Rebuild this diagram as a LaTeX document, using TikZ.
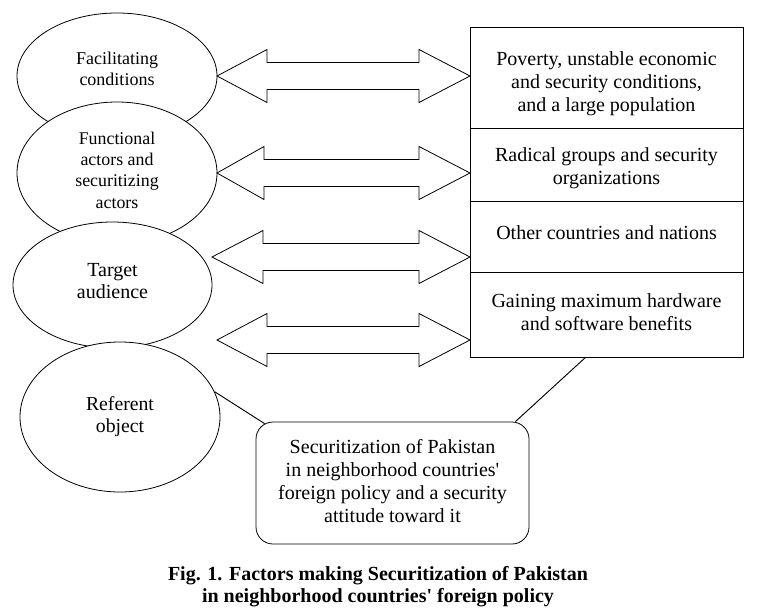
\documentclass[tikz,border=0pt]{standalone}
\usepackage{fontspec}
\setmainfont{Liberation Serif}
\usetikzlibrary{shapes.geometric,calc}
\tikzset{
  ell/.style={ellipse,draw,fill=white,line width=0.6pt,inner sep=0pt},
  boxn/.style={rectangle,draw,line width=0.6pt,inner sep=0pt,minimum width=204.75pt},
  etxt/.style={inner sep=0pt,align=center,font=\fontsize{13.5}{15.5}\selectfont},
  btxt/.style={inner sep=0pt,align=center,font=\fontsize{15}{17.25}\selectfont},
  fat/.style={draw,line width=0.6pt,fill=white,line join=miter},
  link/.style={draw,line width=0.7pt}
}
\newcommand{\fatarrow}[4]{%
  \draw[fat] (#1,#2) -- (#3,#2-26.5) -- (#3,#2-13.5) -- (#4,#2-13.5) -- (#4,#2-26.5)
    -- (470,#2) -- (#4,#2+26.5) -- (#4,#2+13.5) -- (#3,#2+13.5) -- (#3,#2+26.5) -- cycle;}
\begin{document}
\begin{tikzpicture}[x=0.75pt,y=-0.75pt]
\useasboundingbox (0,0) rectangle (781,614);
% ellipses
\node[ell,minimum width=150pt,minimum height=94.5pt] (e1) at (117,76) {};
\node[etxt] (e1t) at (117,69) {Facilitating\\conditions};
\node[ell,minimum width=150pt,minimum height=106.5pt] (e2) at (117,173) {};
\node[etxt,font=\fontsize{13.4}{16}\selectfont] (e2t) at (117,170) {Functional\\actors and\\securitizing\\actors};
\node[ell,minimum width=149.25pt,minimum height=94.5pt] (e3) at (112.5,285) {};
\node[etxt,font=\fontsize{15}{17}\selectfont] (e3t) at (112.5,281) {Target\\audience};
\node[ell,minimum width=150pt,minimum height=112.5pt] (e4) at (120,417) {};
\node[etxt,font=\fontsize{14.8}{16.5}\selectfont] (e4t) at (120,417) {Referent\\object};
% right boxes
\node[boxn,minimum height=75.75pt] (b1) at (606.5,77.5) {};
\node[btxt] (b1t) at (606.5,84) {Poverty, unstable economic\\and security conditions,\\and a large population};
\node[boxn,minimum height=54.75pt] (b2) at (606.5,164.5) {};
\node[btxt] (b2t) at (606.5,168) {Radical groups and security\\organizations};
\node[boxn,minimum height=53.25pt] (b3) at (606.5,236.5) {};
\node[btxt] (b3t) at (606.5,233) {Other countries and nations};
\node[boxn,minimum height=63.75pt] (b4) at (606.5,314.5) {};
\node[btxt] (b4t) at (606.5,312.5) {Gaining maximum hardware\\and software benefits};
% double arrows
\fatarrow{217}{76}{267}{419}
\fatarrow{217}{173}{264}{419}
\fatarrow{212}{257}{263}{419}
\fatarrow{217}{340}{267}{419}
% bottom box
\node[boxn,rounded corners=12.75pt,minimum height=91.5pt] (sec) at (392.5,483) {};
\node[btxt] (sect) at (392.5,481.5)
  {Securitization of Pakistan\\in neighborhood countries\textquotesingle\\foreign policy and a security\\attitude toward it};
\draw[link] (e4.15) -- ($(sec.north west)+(9,2)$);
\draw[link] ($(sec.north east)+(-14,0)$) -- ($(b4.south)+(-21,0)$);
% caption
\node[font=\fontsize{15}{16.5}\selectfont\bfseries,align=center] (cap) at (378,587)
  {Fig. 1. Factors making Securitization of Pakistan\\in neighborhood countries\textquotesingle{} foreign policy};
\end{tikzpicture}
\end{document}
